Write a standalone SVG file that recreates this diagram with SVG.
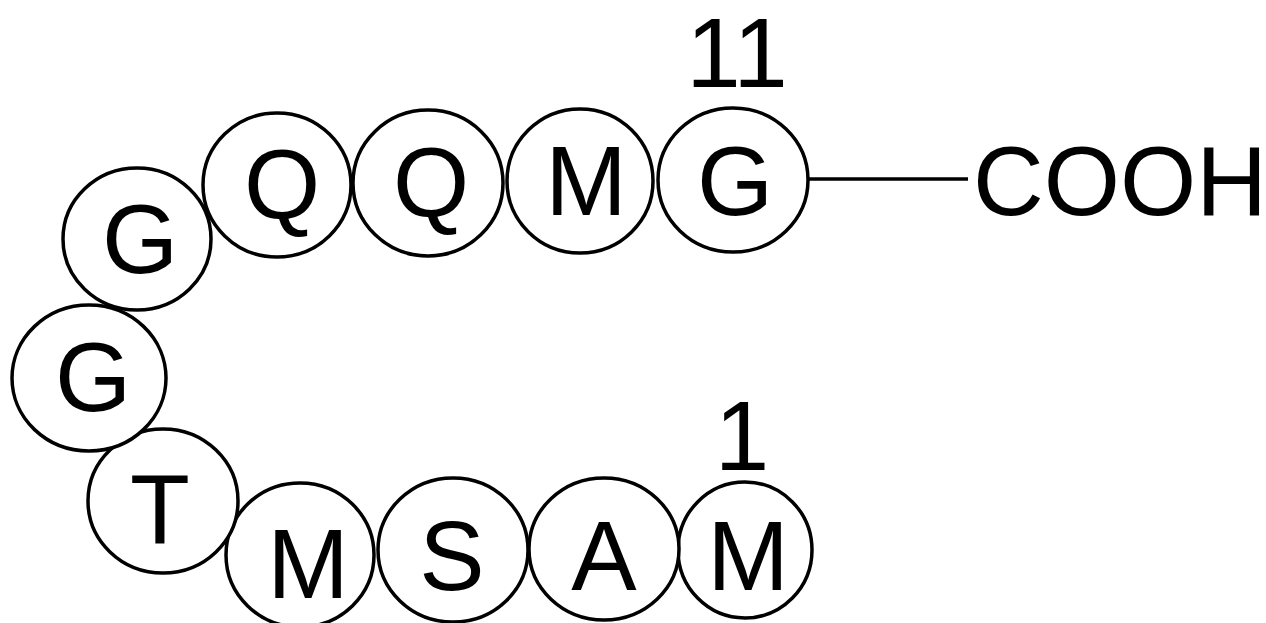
<svg xmlns="http://www.w3.org/2000/svg" width="1266" height="623" viewBox="0 0 1266 623">
<style>
.r{fill:#fff;stroke:#000;stroke-width:3.5}
.t{font-family:"Liberation Sans",Arial,sans-serif;font-size:98px;fill:#000;text-anchor:middle}
.l{stroke:#000;stroke-width:3.5;fill:none}
</style>
<rect width="1266" height="623" fill="#fff"/>
<g id="connectors">
<line class="l" x1="808" y1="179" x2="968" y2="179"/>
</g>
<g id="n1"><ellipse class="r" cx="745" cy="550" rx="67" ry="68"/><text class="t" x="748" y="590">M</text></g>
<g id="n2"><ellipse class="r" cx="604" cy="549" rx="75" ry="71"/><text class="t" x="604" y="590">A</text></g>
<g id="n3"><ellipse class="r" cx="453" cy="550" rx="75" ry="72"/><text class="t" x="452" y="590">S</text></g>
<g id="n4"><ellipse class="r" cx="300" cy="555" rx="74" ry="72"/><text class="t" x="308" y="598">M</text></g>
<g id="n5"><ellipse class="r" cx="163" cy="501" rx="75" ry="72"/><text class="t" x="160" y="543">T</text></g>
<g id="n6"><ellipse class="r" cx="89" cy="378" rx="77" ry="73"/><text class="t" x="93" y="411">G</text></g>
<g id="n7"><ellipse class="r" cx="137" cy="239" rx="74" ry="71"/><text class="t" x="140" y="273">G</text></g>
<g id="n8"><ellipse class="r" cx="277" cy="185" rx="74" ry="72"/><text class="t" x="282" y="218">Q</text></g>
<g id="n9"><ellipse class="r" cx="428" cy="183" rx="75" ry="73"/><text class="t" x="431" y="216">Q</text></g>
<g id="n10"><ellipse class="r" cx="580" cy="181" rx="73" ry="72"/><text class="t" x="586" y="215">M</text></g>
<g id="n11"><ellipse class="r" cx="733" cy="180" rx="75" ry="72"/><text class="t" x="735" y="215">G</text></g>
<g id="labels">
<text class="t" x="737" y="87" font-size="96">11</text>
<text class="t" x="742" y="470">1</text>
<text class="t" x="1120" y="215" font-size="97">COOH</text>
</g>
</svg>
